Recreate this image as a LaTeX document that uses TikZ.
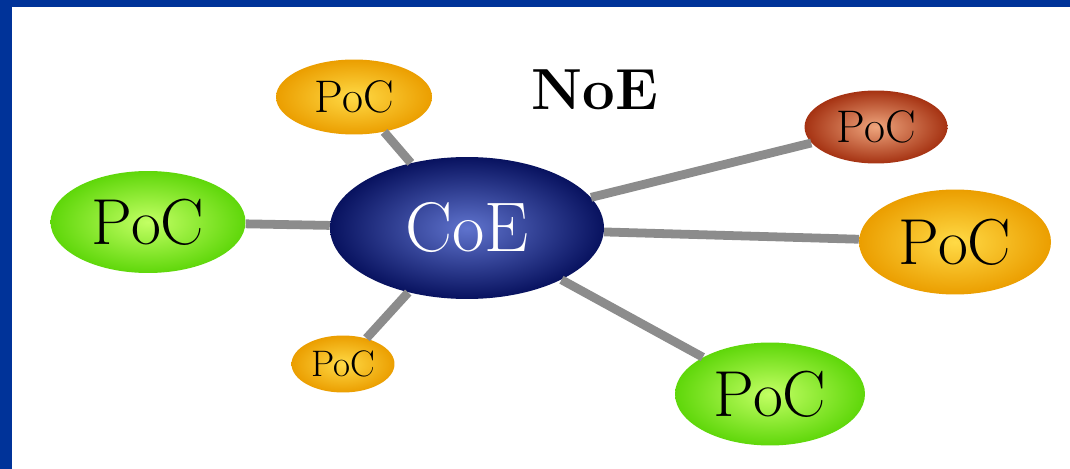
\documentclass[tikz,border=0pt]{standalone}
\usepackage{fontspec}
\usepackage{tikz}
\usetikzlibrary{positioning}
\usetikzlibrary{shapes.geometric}
\definecolor{frameColor}{RGB}{0,51,153}
\definecolor{coeInner}{RGB}{95,115,205}
\definecolor{coeOuter}{RGB}{8,18,95}
\definecolor{yellowInner}{RGB}{255,218,70}
\definecolor{yellowOuter}{RGB}{235,158,0}
\definecolor{greenInner}{RGB}{195,255,100}
\definecolor{greenOuter}{RGB}{95,215,10}
\definecolor{brownInner}{RGB}{238,165,125}
\definecolor{brownOuter}{RGB}{165,50,18}

\begin{document}
\begin{tikzpicture}[x=0.02cm,y=-0.02cm]

          \tikzstyle{hubNode} = [ellipse, inner sep=0pt, shade, inner color=coeInner, outer color=coeOuter, text=white];
          \tikzstyle{yellowNode} = [ellipse, inner sep=0pt, shade, inner color=yellowInner, outer color=yellowOuter];
          \tikzstyle{greenNode} = [ellipse, inner sep=0pt, shade, inner color=greenInner, outer color=greenOuter];
          \tikzstyle{brownNode} = [ellipse, inner sep=0pt, shade, inner color=brownInner, outer color=brownOuter];

          \tikzstyle{linkEdge} = [line width=5pt, black!45];

          \useasboundingbox (0,0) rectangle (1070,469);
          \fill[white] (0,0) rectangle (1070,469);
          \fill[frameColor] (0,0) rectangle (1070,7);
          \fill[frameColor] (0,0) rectangle (12,469);

          \node[hubNode, minimum width=5.48cm, minimum height=2.84cm, font=\fontsize{40}{42}\selectfont] (coe) at (467,228) {CoE};
          \node[yellowNode, minimum width=3.12cm, minimum height=1.5cm, font=\fontsize{26}{28}\selectfont] (pocTop) at (354,97) {PoC};
          \node[greenNode, minimum width=3.9cm, minimum height=2.04cm, font=\fontsize{37}{40}\selectfont] (pocLeft) at (148,222) {PoC};
          \node[yellowNode, minimum width=2.06cm, minimum height=1.14cm, font=\fontsize{21}{23}\selectfont] (pocLow) at (343,364) {PoC};
          \node[brownNode, minimum width=2.86cm, minimum height=1.46cm, font=\fontsize{26}{28}\selectfont] (pocBrown) at (876,127) {PoC};
          \node[yellowNode, minimum width=3.84cm, minimum height=2.1cm, font=\fontsize{37}{40}\selectfont] (pocRight) at (955,242) {PoC};
          \node[greenNode, minimum width=3.8cm, minimum height=2.06cm, font=\fontsize{37}{40}\selectfont] (pocLowRight) at (770,394) {PoC};
          \node[font=\fontsize{33}{36}\selectfont\bfseries] (noe) at (595,90) {NoE};

          \draw[linkEdge] (coe) -- (pocTop);
          \draw[linkEdge] (coe) -- (pocLeft);
          \draw[linkEdge] (coe) -- (pocLow);
          \draw[linkEdge] (coe) -- (pocBrown);
          \draw[linkEdge] (coe) -- (pocRight);
          \draw[linkEdge] (coe) -- (pocLowRight);
        \end{tikzpicture}
\end{document}
